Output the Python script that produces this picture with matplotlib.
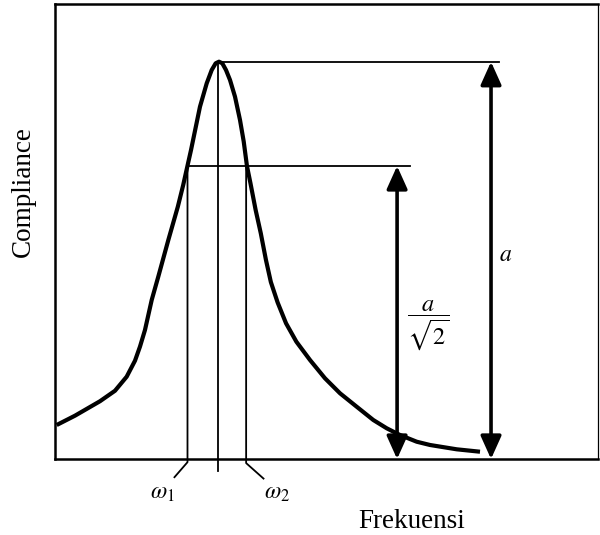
import numpy as np
import matplotlib
matplotlib.use("Agg")
import matplotlib.pyplot as plt

plt.rcParams['font.family'] = ['Liberation Serif', 'DejaVu Serif']
plt.rcParams['mathtext.fontset'] = 'stix'

# resonance curve (frequency, compliance), arbitrary units 0..100
freq = [0.31, 3.68, 8.29, 11.05, 13.20, 14.73, 15.65, 16.57, 17.81, 19.02,
        20.87, 22.62, 23.61, 24.39, 25.05, 26.70, 27.94, 28.86, 29.59, 30.20,
        30.81, 31.49, 32.23, 33.15, 34.07, 34.75, 35.35, 36.00, 36.95, 37.90,
        38.85, 39.75, 41.00, 42.55, 44.45, 46.96, 49.72, 52.49, 55.56, 58.62,
        61.09, 63.54, 66.61, 69.06, 73.98, 78.27]
compliance = [7.47, 9.52, 12.70, 15.00, 18.09, 21.60, 24.70, 28.35, 34.95, 40.07,
              48.13, 55.45, 60.22, 64.40, 67.91, 77.43, 82.57, 85.49, 86.97, 87.32,
              86.97, 85.49, 83.30, 79.63, 74.51, 69.80, 64.40, 60.59, 54.73, 49.60,
              43.74, 38.90, 34.40, 29.82, 25.78, 21.76, 17.74, 14.44, 11.49, 8.57,
              6.75, 5.27, 3.80, 3.08, 2.13, 1.60]

peak = 87.3        # a
half = 64.4        # a / sqrt(2) level as drawn
w1, w0, w2 = 24.4, 30.1, 35.2
arrow_a_x = 80.3
arrow_h_x = 63.0
line_a_end = 81.8
line_h_end = 65.4

fig = plt.figure(figsize=(6.0, 5.35), dpi=100)
ax = fig.add_axes([55 / 600, 76 / 535, 543 / 600, 455 / 535])
ax.set_xlim(0, 100)
ax.set_ylim(0, 100)
ax.set_xticks([])
ax.set_yticks([])
for s in ['left', 'top', 'bottom']:
    ax.spines[s].set_linewidth(1.8)
ax.spines['right'].set_linewidth(0.9)

# curve
ax.plot(freq, compliance, color='black', lw=3.0, solid_joinstyle='round',
        solid_capstyle='butt', zorder=3)

# horizontal reference lines
ax.plot([w0, line_a_end], [peak, peak], color='black', lw=1.3)
ax.plot([w1, line_h_end], [half, half], color='black', lw=1.3)

# vertical lines with leaders to the omega labels
ax.plot([w1, w1, 22.0], [half, -0.7, -4.0], color='black', lw=1.3, clip_on=False)
ax.plot([w0, w0], [peak, -2.6], color='black', lw=1.3, clip_on=False)
ax.plot([w2, w2, 38.4], [half, -0.9, -4.3], color='black', lw=1.3, clip_on=False)

# double-headed arrows
arrow_style = dict(arrowstyle='<|-|>,head_length=1.0,head_width=0.45',
                   color='black', lw=2.6, mutation_scale=14,
                   shrinkA=0, shrinkB=0)
ax.annotate('', xy=(arrow_a_x, 0), xytext=(arrow_a_x, peak), arrowprops=arrow_style)
ax.annotate('', xy=(arrow_h_x, 0), xytext=(arrow_h_x, half), arrowprops=arrow_style)

# labels
ax.text(82.9, 44.8, r'$a$', fontsize=17, ha='center', va='center')
ax.text(68.7, 29.3, r'$\dfrac{a}{\sqrt{2}}$', fontsize=17.5, ha='center', va='center')
ax.text(19.7, -7.5, r'$\omega_1$', fontsize=17, ha='center', va='center', clip_on=False)
ax.text(40.9, -7.5, r'$\omega_2$', fontsize=17, ha='center', va='center', clip_on=False)

fig.text(412 / 600, 1 - 522 / 535, 'Frekuensi', fontsize=19.5, ha='center', va='center')
fig.text(23 / 600, 1 - 192 / 535, 'Compliance', fontsize=19.5, ha='center', va='center',
         rotation=90)

fig.savefig('out.png', dpi=100)
